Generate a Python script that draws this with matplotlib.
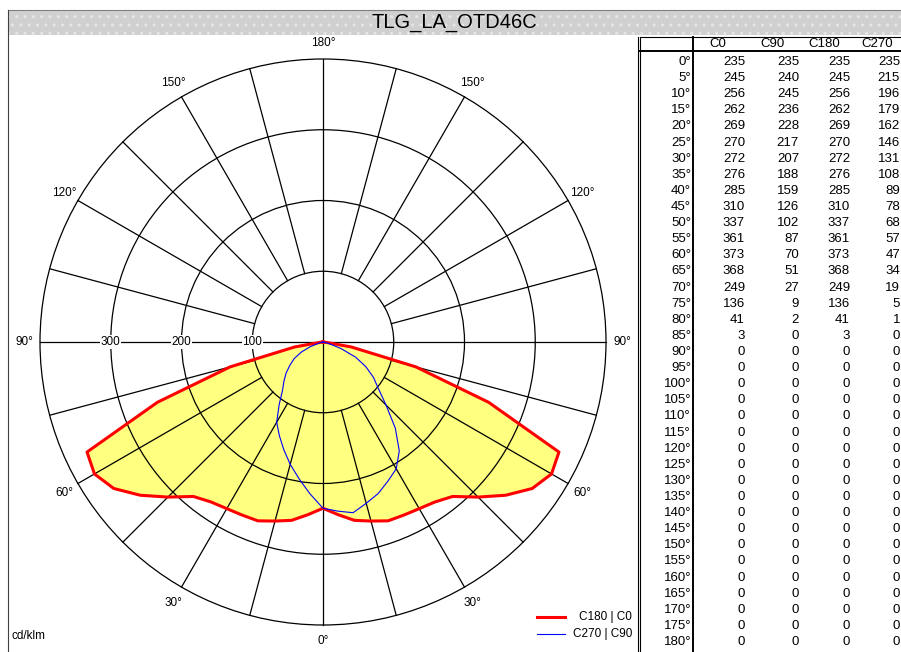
import numpy as np
import matplotlib
matplotlib.use("Agg")
import matplotlib.pyplot as plt
from matplotlib.patches import Rectangle, Circle, Polygon

# ---- data -------------------------------------------------------------
title = "TLG_LA_OTD46C"
unit_label = "cd/klm"
gamma = list(range(0, 181, 5))
c0 = [235, 245, 256, 262, 269, 270, 272, 276, 285, 310, 337, 361, 373, 368,
      249, 136, 41, 3] + [0] * 19
c90 = [235, 240, 245, 236, 228, 217, 207, 188, 159, 126, 102, 87, 70, 51,
       27, 9, 2, 0] + [0] * 19
c180 = [235, 245, 256, 262, 269, 270, 272, 276, 285, 310, 337, 361, 373, 368,
        249, 136, 41, 3] + [0] * 19
c270 = [235, 215, 196, 179, 162, 146, 131, 108, 89, 78, 68, 57, 47, 34,
        19, 5, 1, 0] + [0] * 19
columns = ["C0", "C90", "C180", "C270"]
ring_values = [100, 200, 300, 400]
ring_labels = [100, 200, 300]
angle_labels = [0, 30, 60, 90, 120, 150, 180]
legend_labels = ["C180 | C0", "C270 | C90"]

# ---- figure / layout (pixel based) -----------------------------------
W, H = 901, 652
plt.rcParams['font.family'] = ['Liberation Sans', 'DejaVu Sans']
fig = plt.figure(figsize=(W / 100, H / 100), dpi=100)

page = fig.add_axes([0, 0, 1, 1])
page.set_xlim(0, W)
page.set_ylim(H, 0)
page.axis('off')

# title band
band = Rectangle((8, 10), W - 8, 25, facecolor='#d0d0d0', edgecolor='#e6e6e6',
                 hatch='..', lw=0)
page.add_patch(band)
page.plot([8, W], [10, 10], color='#808080', lw=0.8)
page.text((8 + W) / 2, 23, title, ha='center', va='center', fontsize=14.5,
          color='black')

# panel borders
page.plot([8, 8], [10, H], color='#404040', lw=0.8)

# ---- polar diagram ----------------------------------------------------
cx, cy = 323, 342          # pixel position of the luminaire
scale = 283 / 400          # pixels per cd/klm
x0_px, x1_px, y0_px, y1_px = 9, 637, 36, H
ax = fig.add_axes([x0_px / W, 0, (x1_px - x0_px) / W, (H - y0_px) / H])
ax.set_xlim((x0_px - cx) / scale, (x1_px - cx) / scale)
ax.set_ylim(-(y1_px - cy) / scale, (cy - y0_px) / scale)
ax.axis('off')
ax.set_facecolor('none')

g = np.radians(np.array(gamma, dtype=float))


def curve(left_vals, right_vals):
    lv = np.array(left_vals, dtype=float)
    rv = np.array(right_vals, dtype=float)
    xr, yr = rv * np.sin(g), -rv * np.cos(g)
    xl, yl = -lv * np.sin(g), -lv * np.cos(g)
    xs = np.concatenate([xr[::-1], xl])
    ys = np.concatenate([yr[::-1], yl])
    return xs, ys


xa, ya = curve(c180, c0)
xb, yb = curve(c270, c90)

ax.add_patch(Polygon(np.column_stack([xa, ya]), closed=True,
                     facecolor='#ffff80', edgecolor='none', zorder=1))

# grid: rings, radial spokes, main axes
grid_lw = 0.9
for r in ring_values:
    ax.add_patch(Circle((0, 0), r, fill=False, edgecolor='black', lw=grid_lw,
                        zorder=2))
r_in, r_out = ring_values[0], ring_values[-1]
for a in range(15, 180, 15):
    if a == 90:
        continue
    t = np.radians(a)
    for sgn in (-1, 1):
        ax.plot([sgn * r_in * np.sin(t), sgn * r_out * np.sin(t)],
                [-r_in * np.cos(t), -r_out * np.cos(t)],
                color='black', lw=grid_lw, zorder=2)
ax.plot([-r_out, r_out], [0, 0], color='black', lw=grid_lw, zorder=2)
ax.plot([0, 0], [-r_out, r_out], color='black', lw=grid_lw, zorder=2)

ax.plot(xa, ya, color='#ff0000', lw=2.2, zorder=3, solid_joinstyle='round')
ax.plot(xb, yb, color='#0000ff', lw=0.8, zorder=4)

for r in ring_labels:
    ax.text(-r, 0, str(r), ha='center', va='center', fontsize=8.5, zorder=5,
            bbox=dict(facecolor='white', edgecolor='none', pad=0.4))

r_lab = r_out + 16 / scale
for a in angle_labels:
    t = np.radians(a)
    for sgn in ((1,) if a in (0, 180) else (-1, 1)):
        dy = 2 if a in (30, 60) else 0
        ax.text(sgn * r_lab * np.sin(t), -r_lab * np.cos(t) - dy / scale,
                f"{a}°", ha='center', va='center', fontsize=8.5, zorder=5)

# legend and unit
leg_colors = ['#ff0000', '#0000ff']
leg_lw = [2.2, 0.8]
for i, (lab, col, lw) in enumerate(zip(legend_labels, leg_colors, leg_lw)):
    yy = 617 + i * 17
    page.plot([537, 565], [yy, yy], color=col, lw=lw)
    page.text(632, yy, lab, ha='right', va='center', fontsize=8.5)
page.text(12, 636, unit_label, ha='left', va='center', fontsize=8.5)

# ---- intensity table --------------------------------------------------
tfs = 9.5
tx_left = 640
page.plot([tx_left, W], [37, 37], color='black', lw=0.8)
page.plot([tx_left, W], [51, 51], color='black', lw=1.4)
page.plot([tx_left - 2, tx_left - 2], [37, H], color='black', lw=0.8)
page.plot([tx_left, tx_left], [37, H], color='black', lw=0.8)
page.plot([693, 693], [37, H], color='black', lw=1.4)

head_x = [709, 760, 808, 861]
for hx, name in zip(head_x, columns):
    page.text(hx, 44, name, ha='left', va='center', fontsize=tfs)

col_right = [745, 799, 850, 900]
row0, row_step = 62, (642 - 62) / 36
for i, ga in enumerate(gamma):
    yy = row0 + i * row_step
    page.text(691, yy, f"{ga}°", ha='right', va='center', fontsize=tfs)
    for xr_, vals in zip(col_right, (c0, c90, c180, c270)):
        page.text(xr_, yy, str(vals[i]), ha='right', va='center', fontsize=tfs)

fig.savefig("out.png", dpi=100)
